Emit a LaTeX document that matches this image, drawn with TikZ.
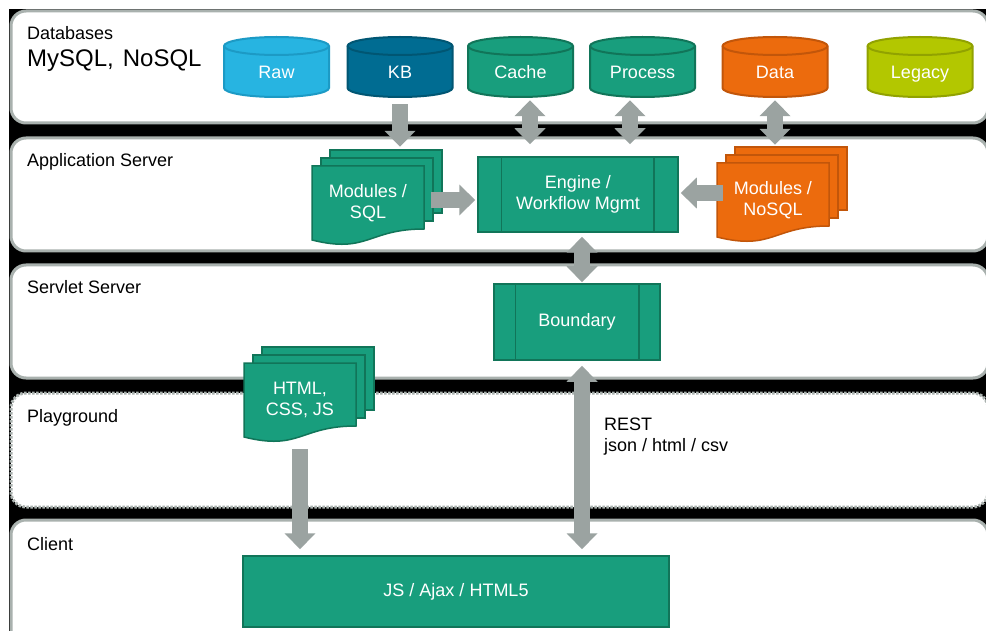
\documentclass[tikz,border=0pt]{standalone}
\usepackage{fontspec}
\setmainfont{Liberation Sans}
\usetikzlibrary{arrows.meta,calc}
\definecolor{bandline}{HTML}{A9B1AE}
\definecolor{arrowgray}{HTML}{9BA3A1}
\definecolor{rawfill}{HTML}{27B4E1}\definecolor{rawline}{HTML}{1C9AC5}
\definecolor{kbfill}{HTML}{006C92}\definecolor{kbline}{HTML}{005673}
\definecolor{tealfill}{HTML}{189E7D}\definecolor{tealline}{HTML}{117559}
\definecolor{orfill}{HTML}{EC6B0D}\definecolor{orline}{HTML}{C2560A}
\definecolor{legfill}{HTML}{B3C700}\definecolor{legline}{HTML}{91A200}
\newcommand\dbcyl[5]{%
 \filldraw[fill=#3,draw=#4,line width=2pt] ({#2-52.5},46) -- ({#2-52.5},88) arc[start angle=180,end angle=0,x radius=52.5,y radius=9] -- ({#2+52.5},46) arc[start angle=0,end angle=-180,x radius=52.5,y radius=9] -- cycle;
 \draw[draw=#4,line width=2pt] ({#2-52.5},46) arc[start angle=180,end angle=0,x radius=52.5,y radius=9];
 \node[cyltext] (#1) at (#2,72) {#5};
}
\newcommand\docstack[6]{%
 \filldraw[fill=#4,draw=#5,line width=1.5pt] ({#2+18},{#3-16}) rectangle ({#2+130},{#3+47});
 \filldraw[fill=#4,draw=#5,line width=1.5pt] ({#2+9},{#3-8}) rectangle ({#2+121},{#3+55});
 \filldraw[fill=#4,draw=#5,line width=1.5pt] (#2,#3) -- ({#2+112},#3) -- ({#2+112},{#3+63}) .. controls ({#2+56},{#3+63}) and ({#2+56},{#3+88}) .. (#2,{#3+74}) -- cycle;
 \node[doctext] (#1) at ({#2+56},{#3+37}) {#6};
}
\begin{document}
\begin{tikzpicture}[x=1pt,y=-1pt,
  band/.style={fill=white,draw=bandline,line width=3pt,rounded corners=15pt},
  bandlabel/.style={inner sep=0pt,anchor=base west,text=black,font=\fontsize{18}{21}\selectfont},
  cyltext/.style={inner sep=0pt,minimum width=105pt,minimum height=50pt,text height=13pt,text depth=0pt,text=white,font=\fontsize{18}{21}\selectfont},
  doctext/.style={inner sep=0pt,minimum width=112pt,minimum height=74pt,text=white,align=center,font=\fontsize{18}{21}\selectfont},
  procbox/.style={fill=tealfill,draw=tealline,line width=1.5pt,inner sep=0pt,text=white,align=center,font=\fontsize{18}{21}\selectfont},
  procline/.style={draw=tealline,line width=1.5pt},
  blockarrow/.style={draw=arrowgray,line width=16pt,-{Triangle[width=30pt,length=16pt]}},
  dblarrow/.style={draw=arrowgray,line width=16pt,{Triangle[width=30pt,length=16pt]}-{Triangle[width=30pt,length=16pt]}}]
\useasboundingbox (0,0) rectangle (986,631);
\clip (0,0) rectangle (986,631);
\fill[white] (0,0) rectangle (986,631);
\fill[black] (9,9) rectangle (990,640);
% bands
\path[band] (11,11) rectangle (988,123);
\path[band] (11,138) rectangle (988,251);
\path[band] (11,265) rectangle (988,378);
\path[band,dash pattern=on 2.5pt off 1.5pt] (11,393) rectangle (988,507);
\path[band] (11,520) rectangle (988,660);
% band labels
\node[bandlabel] (lbldb) at (27,40) {Databases};
\node[bandlabel,font=\fontsize{24}{28}\selectfont] (lblsql) at (27,67) {MySQL,\hspace{9pt}NoSQL};
\node[bandlabel] (lblapp) at (27,167) {Application Server};
\node[bandlabel] (lblserv) at (27,294) {Servlet Server};
\node[bandlabel] (lblplay) at (27,422) {Playground};
\node[bandlabel] (lblclient) at (27,550) {Client};
% databases
\dbcyl{raw}{276.5}{rawfill}{rawline}{Raw}
\dbcyl{kb}{400}{kbfill}{kbline}{KB}
\dbcyl{cache}{520.5}{tealfill}{tealline}{Cache}
\dbcyl{process}{642.5}{tealfill}{tealline}{Process}
\dbcyl{data}{775}{orfill}{orline}{Data}
\dbcyl{legacy}{920}{legfill}{legline}{Legacy}
% application server
\node[procbox,minimum width=200pt,minimum height=75pt] (engine) at (578,194.5) {Engine /\\Workflow Mgmt};
\draw[procline] ($(engine.north west)+(24,0)$) -- ($(engine.south west)+(24,0)$);
\draw[procline] ($(engine.north east)+(-25,0)$) -- ($(engine.south east)+(-25,0)$);
\docstack{modsql}{312}{166}{tealfill}{tealline}{Modules /\\SQL}
\docstack{nosql}{717}{163}{orfill}{orline}{Modules /\\NoSQL}
% servlet server
\node[procbox,minimum width=166pt,minimum height=76pt] (boundary) at (577,322) {Boundary};
\draw[procline] ($(boundary.north west)+(22,0)$) -- ($(boundary.south west)+(22,0)$);
\draw[procline] ($(boundary.north east)+(-22,0)$) -- ($(boundary.south east)+(-22,0)$);
% playground
\docstack{html}{244}{363}{tealfill}{tealline}{HTML,\\CSS, JS}
\node[inner sep=0pt,anchor=west,align=left,text=black,font=\fontsize{18}{21}\selectfont] (rest) at (604,437) {REST\\json / html / csv};
% client
\node[procbox,minimum width=426pt,minimum height=71pt] (client) at (456,591.5) {JS / Ajax / HTML5};
% arrows
\draw[blockarrow] ($(kb.south)+(0,7)$) -- ($(kb.south |- modsql.north)+(0,-19)$);
\draw[dblarrow] ($(cache.south)+(9.5,3)$) -- ($(cache.south |- engine.north)+(9.5,-12)$);
\draw[dblarrow] ($(process.south)+(-12.5,3)$) -- ($(process.south |- engine.north)+(-12.5,-12)$);
\draw[dblarrow] ($(data.south)+(0,3)$) -- ($(data.south |- nosql.north)+(0,-18)$);
\draw[blockarrow] ($(modsql.east)+(7,-3)$) -- ($(engine.west |- modsql.east)+(-2,-3)$);
\draw[blockarrow] ($(nosql.west)+(6,-7)$) -- ($(engine.east |- nosql.west)+(2,-7)$);
\draw[dblarrow] ($(engine.south)+(4,4)$) -- ($(boundary.north)+(5,-1)$);
\draw[dblarrow] ($(boundary.south)+(5,5)$) -- ($(boundary.south |- client.north)+(5,-6)$);
\draw[blockarrow] ($(html.south)+(0,12)$) -- ($(html.south |- client.north)+(0,-6)$);
\end{tikzpicture}
\end{document}
